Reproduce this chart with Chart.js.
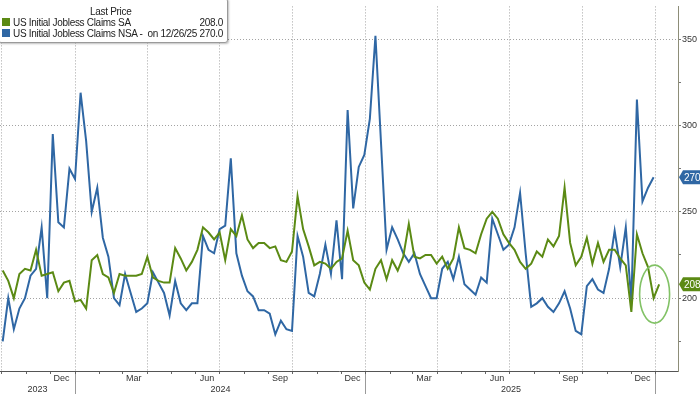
<!DOCTYPE html>
<html lang="en">
<head>
  <meta charset="UTF-8">
  <title>US Initial Jobless Claims</title>
  <script src="https://cdn.jsdelivr.net/npm/chart.js"></script>
  <style>
    html, body {
      margin: 0;
      padding: 0;
      background: #fff;
    }
    #wrap {
      position: relative;
      width: 700px;
      height: 394px;
      overflow: hidden;
    }
    #claimsChart {
      position: absolute;
      left: 0;
      top: 0;
    }
    #legendBox {
      position: absolute;
      left: -2px;
      top: -2px;
      width: 230px;
      height: 45px;
      box-sizing: border-box;
      border: 1px solid #9a9a9a;
      border-radius: 3px;
      background: #fff;
      box-shadow: 1px 1px 2px rgba(0,0,0,0.25);
    }
    .lg {
      position: absolute;
      font-family: 'Liberation Sans', Arial, sans-serif;
      font-size: 10px;
      line-height: 11px;
      color: #222;
      white-space: pre;
      letter-spacing: -0.3px;
    }
    .sw {
      position: absolute;
      width: 8px;
      height: 8px;
    }
  </style>
</head>
<body>

<div id="wrap">
  <canvas id="claimsChart" width="700" height="394"></canvas>
  <div id="legendBox"></div>
  <div class="lg" style="left:90px; top:6px;">Last Price</div>
  <div class="sw" id="sw0" style="left:2px; top:18px;"></div>
  <div class="lg" id="name0" style="left:13px; top:17px;"></div>
  <div class="lg" id="val0" style="right:477px; top:17px;"></div>
  <div class="sw" id="sw1" style="left:2px; top:29px;"></div>
  <div class="lg" id="name1" style="left:13px; top:28px;"></div>
  <div class="lg" id="val1" style="right:477px; top:28px;"></div>
</div>

<script>
  // weekly claims, thousands
  const firstWeek = Date.UTC(2023, 9, 2);

  const saClaims = [
    216, 210, 200, 214, 217, 216, 228, 213, 214, 215,
    204, 209, 210, 198, 199, 194, 222, 225, 214, 212,
    203, 214, 213, 213, 213, 214, 224, 212, 210, 209,
    209, 229, 223, 216, 221, 228, 241, 238, 234, 238,
    222, 240, 236, 248, 234, 229, 232, 232, 229, 230,
    222, 221, 227, 259, 240, 230, 219, 221, 220, 217,
    221, 223, 239, 222, 219, 209, 205, 217, 222, 211,
    222, 216, 224, 243, 224, 223, 225, 225, 220, 224,
    217, 223, 241, 229, 228, 226, 237, 246, 250, 246,
    237, 232, 228, 221, 217, 220, 227, 224, 234, 230,
    236, 264, 232, 219, 224, 235, 220, 232, 221, 228,
    228, 223, 219, 192, 237, 226, 218, 200, 208
  ];

  const nsaClaims = [
    175, 200, 182, 194, 200, 213, 217, 241, 200, 295,
    244, 241, 275, 269, 319, 291, 250, 264, 235, 224,
    200, 196, 214, 203, 192, 194, 197, 215, 209, 203,
    190, 210, 197, 193, 197, 197, 236, 228, 226, 240,
    242, 281, 226, 213, 204, 201, 193, 193, 191, 179,
    187, 182, 181, 236, 224, 203, 201, 214, 231, 214,
    245, 211, 309, 252, 276, 283, 304, 352, 290, 228,
    241, 234, 226, 221, 226, 214, 207, 200, 200, 217,
    221, 211, 224, 208, 205, 202, 212, 209, 246, 237,
    228, 231, 241, 261, 226, 195, 197, 200, 195, 192,
    197, 204, 194, 181, 179, 207, 211, 205, 203, 217,
    239, 218, 241, 198, 315, 256, 264, 270
  ];

  const seriesNames = ['US Initial Jobless Claims SA', 'US Initial Jobless Claims NSA -  on 12/26/25'];
  const seriesColors = ['#5b8a14', '#2f67a4'];
  const monthNames = ['Jan', 'Feb', 'Mar', 'Apr', 'May', 'Jun', 'Jul', 'Aug', 'Sep', 'Oct', 'Nov', 'Dec'];
  const labelMonths = [2, 5, 8, 11];
  const years = [2023, 2024, 2025];
  const yTicks = [175, 200, 225, 250, 275, 300, 325, 350];

  const DAY = 86400000;
  const origin = Date.UTC(2024, 0, 1);
  const dayOf = (y, m, d) => (Date.UTC(y, m, d) - origin) / DAY;
  const xMin = -94.4, xMax = 758.7;

  function toPoints(values) {
    const start = (firstWeek - origin) / DAY;
    return values.map((v, i) => ({ x: start + 7 * i, y: v }));
  }

  // month starts for ticks / quarter grid
  const monthTicks = [];
  for (let y = 2023; y <= 2026; y++) {
    for (let m = 0; m < 12; m++) {
      const d = dayOf(y, m, 1);
      if (d >= xMin && d <= xMax) monthTicks.push({ value: d, quarter: m % 3 === 0 });
    }
  }

  // labels row: month names, year names and year separators
  const labelTicks = [];
  for (let y = 2023; y <= 2026; y++) {
    for (let m = 0; m < 12; m++) {
      const mid = dayOf(y, m, 15);
      if (labelMonths.includes(m) && mid > xMin && mid < xMax) {
        labelTicks.push({ value: mid, text: monthNames[m], sep: false });
      }
      const d = dayOf(y, m, 1);
      if (m === 0 && d > xMin && d <= xMax) labelTicks.push({ value: d, text: '', sep: true });
    }
  }
  years.forEach(y => {
    const a = Math.max(xMin, dayOf(y, 0, 1));
    const b = Math.min(xMax, dayOf(y + 1, 0, 1));
    labelTicks.push({ value: (a + b) / 2, text: ['', String(y)], sep: false });
  });
  labelTicks.sort((a, b) => a.value - b.value);

  // legend text
  const lastSa = saClaims[saClaims.length - 1];
  const lastNsa = nsaClaims[nsaClaims.length - 1];
  document.getElementById('sw0').style.background = seriesColors[0];
  document.getElementById('sw1').style.background = seriesColors[1];
  document.getElementById('name0').textContent = seriesNames[0];
  document.getElementById('name1').textContent = seriesNames[1];
  document.getElementById('val0').textContent = lastSa.toFixed(1);
  document.getElementById('val1').textContent = lastNsa.toFixed(1);

  const tagPlugin = {
    id: 'lastTags',
    afterDraw(chart) {
      const ctx = chart.ctx;
      const ys = chart.scales.y;
      const xs = chart.scales.x;
      const right = chart.chartArea.right;

      // ellipse around the latest SA print
      const saPts = chart.getDatasetMeta(0).data;
      const p = saPts[saPts.length - 2];
      ctx.save();
      ctx.strokeStyle = '#82c266';
      ctx.lineWidth = 1.6;
      ctx.beginPath();
      ctx.ellipse(p.x + 1, p.y - 4, 15, 29, 0, 0, Math.PI * 2);
      ctx.stroke();
      ctx.restore();

      // value tags on the right axis
      [[lastNsa, seriesColors[1]], [lastSa, seriesColors[0]]].forEach(([v, col]) => {
        const y = ys.getPixelForValue(v);
        ctx.save();
        ctx.fillStyle = col;
        ctx.beginPath();
        ctx.moveTo(right + 1, y);
        ctx.lineTo(right + 5, y - 7);
        ctx.lineTo(700, y - 7);
        ctx.lineTo(700, y + 7);
        ctx.lineTo(right + 5, y + 7);
        ctx.closePath();
        ctx.fill();
        ctx.fillStyle = '#fff';
        ctx.font = '10px "Liberation Sans", Arial, sans-serif';
        ctx.textBaseline = 'middle';
        ctx.fillText(v.toFixed(1), right + 6, y + 0.5);
        ctx.restore();
      });
    }
  };

  const ctx = document.getElementById('claimsChart').getContext('2d');
  const claimsChart = new Chart(ctx, {
    type: 'line',
    data: {
      datasets: [
        {
          label: seriesNames[0],
          data: toPoints(saClaims),
          borderColor: seriesColors[0],
          borderWidth: 2,
          pointRadius: 0,
          tension: 0
        },
        {
          label: seriesNames[1],
          data: toPoints(nsaClaims),
          borderColor: seriesColors[1],
          borderWidth: 2,
          pointRadius: 0,
          tension: 0
        }
      ]
    },
    options: {
      responsive: false,
      animation: false,
      layout: { padding: 0, autoPadding: false },
      plugins: {
        legend: { display: false },
        tooltip: { enabled: false }
      },
      scales: {
        x: {
          type: 'linear',
          position: 'bottom',
          weight: 0,
          min: xMin,
          max: xMax,
          afterBuildTicks: s => { s.ticks = monthTicks.map(t => ({ ...t })); },
          afterFit: s => { s.height = 3; },
          ticks: { display: false },
          grid: {
            color: c => (c.tick && c.tick.quarter) ? '#a3a3a3' : 'rgba(0,0,0,0)',
            lineWidth: 1,
            tickLength: 3,
            tickColor: '#666',
            tickWidth: 1
          },
          border: { display: true, color: '#555', width: 1, dash: [1, 2] }
        },
        xLab: {
          type: 'linear',
          position: 'bottom',
          weight: 1,
          min: xMin,
          max: xMax,
          afterBuildTicks: s => { s.ticks = labelTicks.map(t => ({ ...t })); },
          afterFit: s => { s.height = 20; },
          ticks: {
            autoSkip: false,
            maxRotation: 0,
            padding: -23,
            color: '#333',
            font: { family: "'Liberation Sans', Arial, sans-serif", size: 9 },
            callback: (v, i, ticks) => ticks[i].text
          },
          grid: {
            drawOnChartArea: false,
            tickLength: 22,
            tickColor: c => (c.tick && c.tick.sep) ? '#9a9a9a' : 'rgba(0,0,0,0)',
            tickWidth: 1
          },
          border: { display: false }
        },
        y: {
          type: 'linear',
          position: 'right',
          min: 157.8,
          max: 369,
          afterBuildTicks: s => { s.ticks = yTicks.map(v => ({ value: v })); },
          afterFit: s => { s.width = 22; },
          ticks: {
            padding: 1,
            color: '#333',
            font: { family: "'Liberation Sans', Arial, sans-serif", size: 9 },
            callback: v => (v % 50 === 0 ? String(v) : '')
          },
          grid: {
            color: c => (c.tick && c.tick.value % 50 === 0) ? '#a3a3a3' : 'rgba(0,0,0,0)',
            lineWidth: 1,
            tickLength: 3,
            tickColor: '#777'
          },
          border: { display: true, color: '#8d8d78', width: 1, dash: [1, 2] }
        }
      }
    },
    plugins: [tagPlugin]
  });
</script>
</body>
</html>
